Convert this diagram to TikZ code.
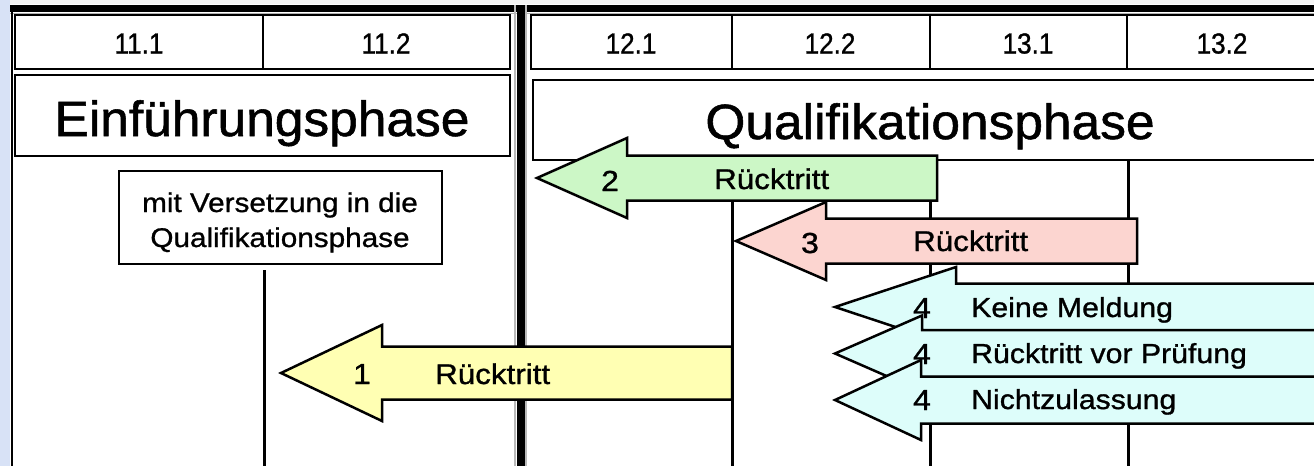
\documentclass[tikz,border=0pt]{standalone}
\usepackage{fontspec}
\setmainfont{Liberation Sans}
\newfontfamily\numfont[FakeStretch=0.9,FakeBold=1.0]{Liberation Sans}
\newfontfamily\widefont[FakeStretch=1.1,FakeBold=1.0]{Liberation Sans}
\newfontfamily\titlefont[FakeStretch=1.04,FakeBold=1.1]{Liberation Sans}
\definecolor{stripblue}{HTML}{D8E2F6}
\definecolor{agreen}{HTML}{CCF7C6}
\definecolor{apink}{HTML}{FCD5D0}
\definecolor{ayellow}{HTML}{FFFFB3}
\definecolor{acyan}{HTML}{DDFDFA}
\newcommand\blockarrow[7]{%
  \filldraw[arrowline, fill=#1] (#2,#3) -- (#4,#3-#6) -- (#4,#3-#7) -- (#5,#3-#7) -- (#5,#3+#7) -- (#4,#3+#7) -- (#4,#3+#6) -- cycle;}
\tikzset{
 cell/.style={draw=black, line width=2pt},
 vline/.style={draw=black, line width=3pt},
 arrowline/.style={draw=black, line width=2.5pt, line join=miter},
 numtxt/.style={font=\numfont\fontsize{29}{30}\selectfont, inner sep=0pt, anchor=base},
 titletxt/.style={font=\titlefont\fontsize{49.5}{58}\selectfont, inner sep=0pt, anchor=base},
 boxtxt/.style={font=\widefont\fontsize{27}{35}\selectfont, inner sep=0pt, anchor=base},
 arrtxt/.style={font=\widefont\fontsize{27.5}{30}\selectfont, inner sep=0pt, anchor=base west},
 rtxt/.style={font=\widefont\fontsize{28.5}{30}\selectfont, inner sep=0pt, anchor=base west},
 digtxt/.style={font=\widefont\fontsize{29}{30}\selectfont, inner sep=0pt, anchor=base},
}
\begin{document}
\begin{tikzpicture}[x=1pt,y=-1pt]
\useasboundingbox (0,0) rectangle (1314,466);
\clip (0,0) rectangle (1314,466);
\fill[white] (0,0) rectangle (1314,466);
\fill[gray!8] (10,0) rectangle (1314,4);
\fill[stripblue] (0,0) rectangle (10,466);
% outer borders
\fill[black] (10,5) rectangle (1314,12);
\draw[gray!60, line width=1pt] (10,13) -- (1314,13);
\draw[black, line width=2pt] (12,5) -- (12,466);
% separator
\draw[gray!55, line width=2pt] (514.5,5) -- (514.5,466);
\draw[gray!55, line width=2pt] (526,5) -- (526,466);
\draw[black, line width=8pt] (520.5,5) -- (520.5,466);
% header cells
\draw[cell] (15,15) rectangle (263,69);
\draw[cell] (263,15) rectangle (509.5,69);
\draw[cell] (15,75) rectangle (509.5,156);
\draw[cell] (530.5,15) rectangle (732,69);
\draw[cell] (732,15) rectangle (930,69);
\draw[cell] (930,15) rectangle (1127,69);
\draw[cell] (1127,15) rectangle (1330,69);
\draw[cell] (533,80) rectangle (1330,160);
\node[numtxt] (h111) at (139,53.5) {11.1};
\node[numtxt] (h112) at (386,53.5) {11.2};
\node[numtxt] (h121) at (631,53.5) {12.1};
\node[numtxt] (h122) at (830,53.5) {12.2};
\node[numtxt] (h131) at (1028,53.5) {13.1};
\node[numtxt] (h132) at (1222,53.5) {13.2};
\node[titletxt] (einf) at (262,136) {Einführungsphase};
\node[titletxt] (qual) at (930,139) {Qualifikationsphase};
% vertical lines
\draw[vline] (732,160) -- (732,466);
\draw[vline] (930.5,160) -- (930.5,466);
\draw[vline] (1128,160) -- (1128,466);
\draw[vline] (264,270) -- (264,466);
% box
\draw[line width=2.5pt] (119,171) rectangle (442,264);
\node[boxtxt] (mv1) at (280,212) {mit Versetzung in die};
\node[boxtxt] (mv2) at (280,247) {Qualifikationsphase};
% arrows
\blockarrow{agreen}{537}{178}{627}{937}{40}{22.5}
\node[digtxt] (n2) at (610,191) {2};
\node[rtxt] (r2) at (714,189) {Rücktritt};
\blockarrow{apink}{736}{241}{826}{1137}{39}{22.5}
\node[digtxt] (n3) at (810,253) {3};
\node[rtxt] (r3) at (913,251) {Rücktritt};
\blockarrow{ayellow}{281}{373}{382}{732}{48}{26.5}
\node[digtxt] (n1) at (362,384) {1};
\node[rtxt] (r1) at (435,384) {Rücktritt};
\blockarrow{acyan}{835}{307}{956}{1340}{40}{23.5}
\node[digtxt] (n4a) at (922,318) {4};
\node[arrtxt] (t4a) at (971,317) {Keine Meldung};
\blockarrow{acyan}{835}{353.5}{922}{1340}{38}{23.5}
\node[digtxt] (n4b) at (922,364) {4};
\node[arrtxt] (t4b) at (971,363) {Rücktritt vor Prüfung};
\blockarrow{acyan}{835}{400}{921}{1340}{40}{23.5}
\node[digtxt] (n4c) at (922,410) {4};
\node[arrtxt] (t4c) at (971,409) {Nichtzulassung};
\end{tikzpicture}
\end{document}
